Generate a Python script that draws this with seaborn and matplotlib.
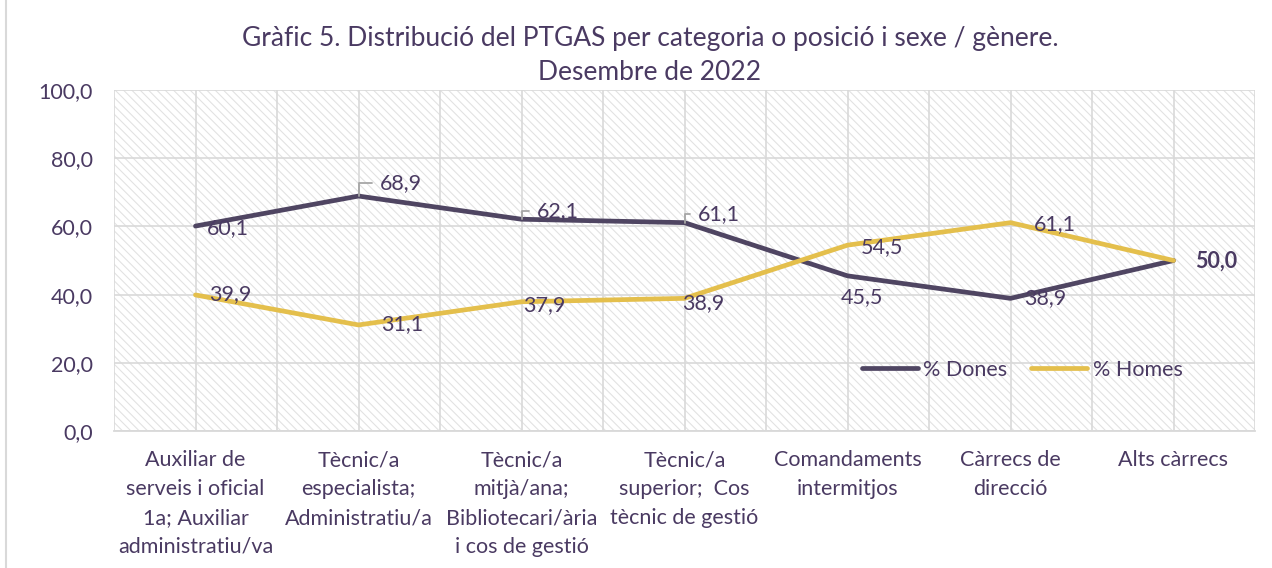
import numpy as np
import pandas as pd
import matplotlib
matplotlib.use("Agg")
import matplotlib.pyplot as plt
from matplotlib.patches import Rectangle
from matplotlib.ticker import FuncFormatter, MultipleLocator
import seaborn as sns

categories = [
    "Auxiliar de\nserveis i oficial\n1a; Auxiliar\nadministratiu/va",
    "Tècnic/a\nespecialista;\nAdministratiu/a",
    "Tècnic/a\nmitjà/ana;\nBibliotecari/ària\ni cos de gestió",
    "Tècnic/a\nsuperior;  Cos\ntècnic de gestió",
    "Comandaments\nintermitjos",
    "Càrrecs de\ndirecció",
    "Alts càrrecs",
]
dones = [60.1, 68.9, 62.1, 61.1, 45.5, 38.9, 50.0]
homes = [39.9, 31.1, 37.9, 38.9, 54.5, 61.1, 50.0]
series_names = ["% Dones", "% Homes"]
title = "Gràfic 5. Distribució del PTGAS per categoria o posició i sexe / gènere.\nDesembre de 2022"

sns.set_theme(style="white")
plt.rcParams["font.family"] = ["Lato", "DejaVu Sans"]
plt.rcParams["hatch.linewidth"] = 0.8

TXT = "#4a3a62"
C_D = "#4f4562"
C_H = "#e4bf4c"
GRID = "#d9d9d9"
FS = 15.5

n = len(categories)
df = pd.DataFrame({
    "x": list(range(n)) * 2,
    "val": dones + homes,
    "serie": [series_names[0]] * n + [series_names[1]] * n,
})

fig = plt.figure(figsize=(12.72, 5.68), dpi=100)
fig.patches.append(Rectangle((6 / 1272, -0.05), 1.2, 1.05 + (1 - 14 / 568),
                             transform=fig.transFigure, fill=False, edgecolor=GRID, lw=1.5))
ax = fig.add_axes([114 / 1272, 1 - 431 / 568, 1141 / 1272, 341 / 568])
ax.xaxis.remove_overlapping_locs = False

# hatched background
ax.add_patch(Rectangle((0, 0), 1, 1, transform=ax.transAxes, facecolor="white",
                       edgecolor="#e2e2e2", hatch="\\\\\\\\", lw=0, zorder=0))

sns.lineplot(data=df, x="x", y="val", hue="serie", palette=[C_D, C_H], lw=3.4,
             ax=ax, legend=True, zorder=3, sort=False)

ax.set_xlim(-0.5, n - 0.5)
ax.set_ylim(0, 100)
ax.set_xticks(range(n))
ax.set_xticklabels(categories, fontsize=FS, color=TXT, linespacing=1.55)
ax.set_xticks(np.arange(-0.5, n, 0.5), minor=True)
ax.yaxis.set_major_locator(MultipleLocator(20))
ax.yaxis.set_major_formatter(FuncFormatter(lambda v, p: f"{v:.1f}".replace(".", ",")))
ax.tick_params(axis="y", labelsize=FS, labelcolor=TXT, length=0, pad=15)
ax.tick_params(axis="x", which="both", length=0, pad=14)
ax.grid(False)
ax.grid(True, axis="y", which="major", color=GRID, lw=1.2, zorder=1)
ax.grid(True, axis="x", which="minor", color=GRID, lw=1.2, zorder=1)
ax.set_axisbelow(True)
for s in ["top", "right", "left"]:
    ax.spines[s].set_visible(False)
ax.spines["bottom"].set_color(GRID)
ax.spines["bottom"].set_linewidth(1.3)
ax.set_xlabel("")
ax.set_ylabel("")

fig.text(0.511, 1 - 26 / 568, title, ha="center", va="top", fontsize=19, color=TXT, linespacing=1.45)

# data labels: (offset x px, offset y px, leader)
px = 0.72
d_off = [(32, -2, False), (21, 13, True), (15, 8, True), (13, 9, True), (14, -21, False), (35, 0, False), (43, -1, False)]
h_off = [(35, 1, False), (44, 1, False), (23, -3, False), (19, -5, False), (34, -2, False), (44, -1, False), None]
for i, (v, o) in enumerate(zip(dones, d_off)):
    lab = f"{v:.1f}".replace(".", ",")
    bold = (i == n - 1)
    if o[2]:
        ax.annotate(lab, (i, v), xytext=(o[0] * px, o[1] * px), textcoords="offset points",
                    ha="left", va="center", fontsize=FS, color=TXT,
                    arrowprops=dict(arrowstyle="-", color="#a6a6a6", lw=1.3, shrinkA=3, shrinkB=0,
                                    connectionstyle="angle,angleA=0,angleB=90,rad=0"))
    else:
        ax.annotate(lab, (i, v), xytext=(o[0] * px, o[1] * px), textcoords="offset points",
                    ha="center", va="center", fontsize=FS, color=TXT,
                    fontweight="bold" if bold else "normal")
for i, (v, o) in enumerate(zip(homes, h_off)):
    if o is None:
        continue
    lab = f"{v:.1f}".replace(".", ",")
    ax.annotate(lab, (i, v), xytext=(o[0] * px, o[1] * px), textcoords="offset points",
                ha="center", va="center", fontsize=FS, color=TXT)

leg = ax.legend(loc="center", bbox_to_anchor=(0.796, 0.179), ncol=2, frameon=False,
                fontsize=FS, handlelength=2.6, columnspacing=1.1, handletextpad=0.25, title=None)
for t in leg.get_texts():
    t.set_color(TXT)
for h in leg.get_lines():
    h.set_linewidth(3.4)

fig.savefig("out.png", dpi=100)
